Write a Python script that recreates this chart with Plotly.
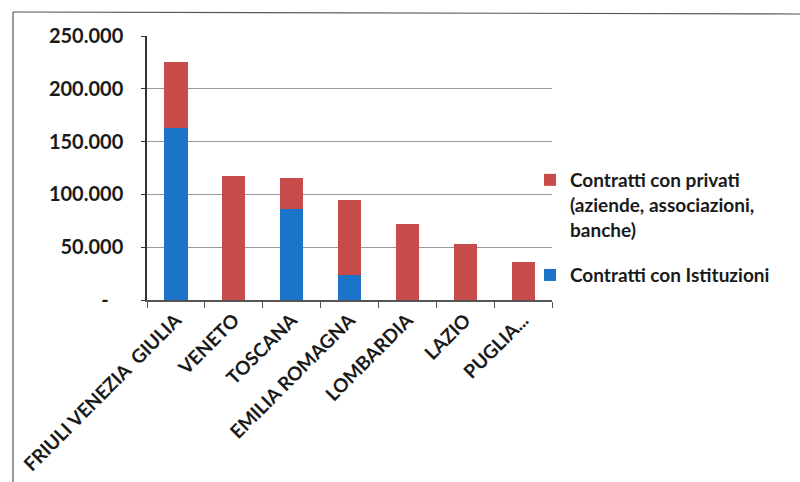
import plotly.graph_objects as go

# Regional contract totals (euro), split by counterpart type
regions = ["FRIULI VENEZIA  GIULIA", "VENETO", "TOSCANA", "EMILIA ROMAGNA",
           "LOMBARDIA", "LAZIO", "PUGLIA..."]
istituzioni = [163000, 0, 86000, 23500, 0, 0, 0]
privati = [62000, 117600, 29400, 71500, 71700, 52800, 36100]

y_tickvals = [0, 50000, 100000, 150000, 200000, 250000]
y_ticktext = ["-\u00a0\u00a0\u00a0", "50.000", "100.000", "150.000", "200.000", "250.000"]

name_ist = "Contratti con Istituzioni"
name_priv = "Contratti con privati<br>(aziende, associazioni,<br>banche)"

blue = "#1B74C9"
red = "#C84B4B"
font_family = "Lato, 'Open Sans', sans-serif"

fig = go.Figure()
fig.add_trace(go.Bar(x=regions, y=istituzioni, name=name_ist, marker_color=blue,
                     marker_line_width=0, legendgroup="ist", legendrank=2))
fig.add_trace(go.Bar(x=regions, y=privati, name=name_priv, marker_color=red,
                     marker_line_width=0, legendgroup="priv", legendrank=1))

W, H = 800, 482
L, R, T, B = 147, 248, 36, 182
pw, ph = W - L - R, H - T - B

def px_x(p):
    return (p - L) / pw

def px_y(p):
    return (H - B - p) / ph

fig.update_layout(
    width=W, height=H,
    barmode="stack", bargap=0.6,
    margin=dict(l=L, r=R, t=T, b=B, autoexpand=False),
    paper_bgcolor="white", plot_bgcolor="white",
    font=dict(family=font_family, color="#1a1a1a"),
    showlegend=True,
    legend=dict(
        x=px_x(530), y=px_y(161), xanchor="left", yanchor="top",
        traceorder="grouped", valign="top",
        font=dict(size=19, family=font_family, color="#1a1a1a", weight="bold"),
        itemwidth=30, tracegroupgap=18, bgcolor="rgba(0,0,0,0)",
    ),
    xaxis=dict(
        tickangle=-45,
        tickfont=dict(size=19, family=font_family, color="#1a1a1a", weight="bold"),
        showline=True, linecolor="#555555", linewidth=1.5,
        ticks="outside", tickson="boundaries", ticklen=6, tickcolor="#555555",
        showgrid=False,
    ),
    yaxis=dict(
        range=[0, 250000], tickvals=y_tickvals, ticktext=y_ticktext,
        tickfont=dict(size=20, family=font_family, color="#1a1a1a", weight="bold"),
        showline=True, linecolor="#333333", linewidth=1.5,
        ticks="outside", ticklen=4, tickcolor="#333333",
        ticklabelstandoff=14,
        showgrid=True, gridcolor="#9a9a9a", gridwidth=1.2,
        zeroline=False,
    ),
    shapes=[
        # outer chart-area frame
        dict(type="line", xref="paper", yref="paper",
             x0=px_x(13), x1=px_x(800), y0=px_y(12), y1=px_y(14),
             line=dict(color="#555555", width=1.2)),
        dict(type="line", xref="paper", yref="paper",
             x0=px_x(13), x1=px_x(13), y0=px_y(12), y1=px_y(482),
             line=dict(color="#555555", width=1.2)),
    ],
)

fig.write_html("out.html")
